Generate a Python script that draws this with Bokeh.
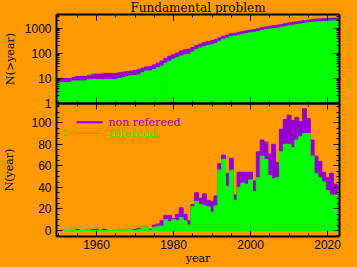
import numpy as np
from bokeh.plotting import figure
from bokeh.layouts import column
from bokeh.models import (Range1d, LinearAxis, LogAxis, FixedTicker,
                          SingleIntervalTicker, Title, ColumnDataSource)
from bokeh.core.properties import value
from bokeh.embed import file_html
from bokeh.resources import INLINE

# ---------------- data ----------------
years = list(range(1950, 2024))
# total papers per year (refereed + non refereed)
total = [0, 0, 0, 0, 1, 1, 0, 0, 1, 1,          # 1950-1959
         1, 0, 1, 0, 0, 0, 1, 1, 1, 1,          # 1960-1969
         1, 2, 3, 3, 1, 5, 6, 9, 14, 14,        # 1970-1979
         11, 15, 21, 15, 9, 24, 35, 30, 34, 28,  # 1980-1989
         27, 32, 62, 70, 53, 67, 33, 54, 54, 54,  # 1990-1999
         54, 46, 73, 84, 82, 71, 80, 63, 94, 103,  # 2000-2009
         107, 102, 105, 101, 113, 104, 84, 69, 64, 54,  # 2010-2019
         49, 53, 43, 4]                          # 2020-2023
# refereed papers per year
refereed = [0, 0, 0, 0, 1, 0, 0, 0, 1, 0,
            0, 0, 0, 0, 0, 0, 1, 1, 1, 1,
            0, 1, 3, 3, 0, 3, 4, 4, 10, 8,
            10, 9, 12, 9, 5, 22, 27, 24, 23, 22,
            17, 23, 56, 66, 41, 56, 28, 40, 44, 43,
            47, 36, 49, 69, 66, 51, 48, 49, 73, 80,
            80, 77, 84, 87, 90, 90, 69, 53, 49, 45,
            37, 33, 33, 2]
# papers before 1950 (start of the cumulative curves)
pre_total = 10
pre_refereed = 7

title_text = "Fundamental problem"
legend_labels = ["non refereed", "refereed"]
x_ticks_major = 20
y_log_ticks = [1, 10, 100, 1000]

# ---------------- style ----------------
ORANGE = "#FF9900"
PURPLE = "#9400D3"
GREEN = "#00FF00"
TICK_FONT = "Liberation Sans"
TEXT_FONT = "DejaVu Serif"

yr = np.array(years, dtype=float)
tot = np.array(total, dtype=float)
ref = np.array(refereed, dtype=float)
cum_tot = pre_total + np.cumsum(tot)
cum_ref = pre_refereed + np.cumsum(ref)

src = ColumnDataSource(dict(left=yr - 0.5, right=yr + 0.5,
                            tot=tot, ref=ref, ctot=cum_tot, cref=cum_ref,
                            zero=np.zeros_like(yr), one=np.ones_like(yr)))

xr = Range1d(1949.6, 2023.1)


def style_axis(ax, labels=True):
    ax.axis_line_color = "black"
    ax.axis_line_width = 2
    ax.major_tick_in = 6
    ax.major_tick_out = 0
    ax.minor_tick_in = 3
    ax.minor_tick_out = 0
    ax.major_tick_line_color = "black"
    ax.minor_tick_line_color = "black"
    ax.major_tick_line_width = 1
    ax.minor_tick_line_width = 1
    if labels:
        ax.major_label_text_font = TICK_FONT
        ax.major_label_text_font_size = "12px"
        ax.major_label_text_color = "black"
        ax.major_label_standoff = 5
    else:
        ax.major_label_text_font_size = "1px"
        ax.major_label_text_alpha = 0
        ax.major_label_standoff = 0
    ax.axis_label_text_font = TEXT_FONT
    ax.axis_label_text_font_size = "11px"
    ax.axis_label_text_font_style = "normal"
    ax.axis_label_text_color = "black"


minor_log = [m * 10 ** e for e in range(0, 4) for m in range(2, 10)]

# ---------------- top panel: cumulative ----------------
top = figure(frame_width=283, frame_height=89, x_range=xr,
             y_range=Range1d(1, 3630), y_axis_type="log",
             output_backend="svg", toolbar_location=None,
             min_border_left=52, min_border_right=22,
             min_border_top=14, min_border_bottom=7,
             background_fill_color=ORANGE, border_fill_color=ORANGE,
             outline_line_color=None)
top.title = Title(text=title_text, align="center", text_font=TEXT_FONT,
                  text_font_size="12px", text_font_style="normal",
                  text_color="black", standoff=0, offset=4,
                  text_line_height=0.9)
top.grid.visible = False
top.quad(left="left", right="right", bottom="one", top="ctot", source=src,
         fill_color=PURPLE, line_color=PURPLE)
top.quad(left="left", right="right", bottom="one", top="cref", source=src,
         fill_color=GREEN, line_color=GREEN)

ly = top.yaxis[0]
ly.ticker = FixedTicker(ticks=y_log_ticks, minor_ticks=minor_log)
ly.major_label_overrides = {t: str(t) for t in y_log_ticks}
ly.axis_label = "N(>year)"
style_axis(ly)
ly.axis_label_standoff = 5

bx = top.xaxis[0]
bx.ticker = SingleIntervalTicker(interval=x_ticks_major, num_minor_ticks=4)
style_axis(bx, labels=False)

ra = LogAxis(ticker=FixedTicker(ticks=y_log_ticks, minor_ticks=minor_log))
style_axis(ra, labels=False)
top.add_layout(ra, "right")
ta = LinearAxis(ticker=SingleIntervalTicker(interval=x_ticks_major, num_minor_ticks=4))
style_axis(ta, labels=False)
top.add_layout(ta, "above")

# ---------------- bottom panel: per year ----------------
bot = figure(frame_width=283, frame_height=133, x_range=xr,
             y_range=Range1d(-5.6, 117.9),
             output_backend="svg", toolbar_location=None,
             min_border_left=52, min_border_right=22,
             min_border_top=7, min_border_bottom=31,
             background_fill_color=ORANGE, background_fill_alpha=0,
             border_fill_color=ORANGE, border_fill_alpha=0,
             outline_line_color=None,
             styles={"margin-top": "-14px"})
bot.grid.visible = False
bot.quad(left="left", right="right", bottom="zero", top="tot", source=src,
         fill_color=PURPLE, line_color=PURPLE)
bot.quad(left="left", right="right", bottom="zero", top="ref", source=src,
         fill_color=GREEN, line_color=GREEN)

by = bot.yaxis[0]
by.ticker = SingleIntervalTicker(interval=20, num_minor_ticks=4)
by.axis_label = "N(year)"
style_axis(by)
by.axis_label_standoff = 12

bxx = bot.xaxis[0]
bxx.ticker = SingleIntervalTicker(interval=x_ticks_major, num_minor_ticks=4)
bxx.axis_label = "year"
style_axis(bxx)
bxx.major_label_standoff = 3
bxx.axis_label_standoff = 0

ra2 = LinearAxis(ticker=SingleIntervalTicker(interval=20, num_minor_ticks=4))
style_axis(ra2, labels=False)
bot.add_layout(ra2, "right")
ta2 = LinearAxis(ticker=SingleIntervalTicker(interval=x_ticks_major, num_minor_ticks=4))
style_axis(ta2, labels=False)
bot.add_layout(ta2, "above")

# legend drawn by hand (coloured texts)
bot.segment(x0=[1954.8], y0=[100.5], x1=[1961.6], y1=[100.5],
            line_color=PURPLE, line_width=2)
bot.segment(x0=[1954.8], y0=[90], x1=[1961.6], y1=[90],
            line_color=GREEN, line_width=1)
bot.text(x=[1963.1], y=[100.5], text=[legend_labels[0]],
         text_font=value(TEXT_FONT), text_font_size="11px",
         text_color=PURPLE, text_baseline="middle", text_align="left")
bot.text(x=[1963.1], y=[90], text=[legend_labels[1]],
         text_font=value(TEXT_FONT), text_font_size="11px",
         text_color=GREEN, text_baseline="middle", text_align="left")

layout = column(top, bot, spacing=0,
                styles={"background-color": ORANGE, "margin-top": "-2px"})

html = file_html(layout, INLINE, title=title_text)
html = html.replace("<head>", "<head><style>html,body{margin:0;padding:0;background:%s;}</style>" % ORANGE, 1)
open("out.html", "w").write(html)
